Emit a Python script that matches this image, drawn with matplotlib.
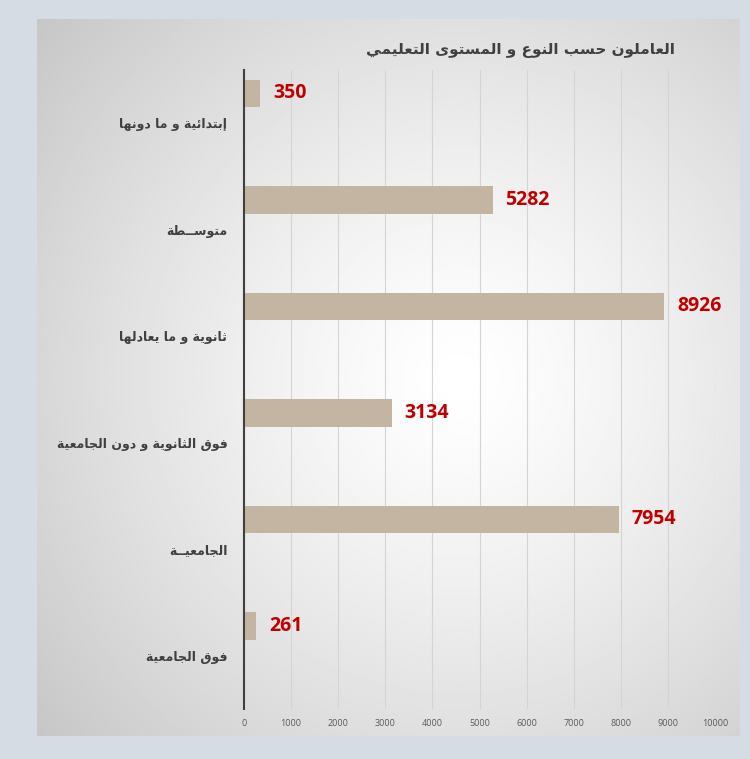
import numpy as np
import matplotlib.pyplot as plt

# data
title = 'العاملون حسب النوع و المستوى التعليمي'
categories = ['إبتدائية و ما دونها', 'متوســطة', 'ثانوية و ما يعادلها',
              'فوق الثانوية و دون الجامعية', 'الجامعيــة', 'فوق الجامعية']
values = [350, 5282, 8926, 3134, 7954, 261]
xticks = list(range(0, 10001, 1000))

# matplotlib has no arabic shaping, so pick the presentation forms by hand
# (isolated form codepoint, number of forms: 2 = joins right only, 4 = joins both sides)
FORMS = {
    'ا': (0xFE8D, 2), 'إ': (0xFE87, 2), 'ب': (0xFE8F, 4), 'ة': (0xFE93, 2),
    'ت': (0xFE95, 4), 'ث': (0xFE99, 4), 'ج': (0xFE9D, 4), 'ح': (0xFEA1, 4),
    'د': (0xFEA9, 2), 'س': (0xFEB1, 4), 'ط': (0xFEC1, 4), 'ع': (0xFEC9, 4),
    'ف': (0xFED1, 4), 'ق': (0xFED5, 4), 'ل': (0xFEDD, 4), 'م': (0xFEE1, 4),
    'ن': (0xFEE5, 4), 'ه': (0xFEE9, 4), 'و': (0xFEED, 2), 'ى': (0xFEEF, 2),
    'ي': (0xFEF1, 4), 'ئ': (0xFE89, 4),
}
TATWEEL = 'ـ'


def joins(c):
    return c in FORMS or c == TATWEEL


def dual(c):
    return c == TATWEEL or (c in FORMS and FORMS[c][1] == 4)


def shape(text):
    out = []
    for i, c in enumerate(text):
        if c not in FORMS:
            out.append(c)
            continue
        base, k = FORMS[c]
        prev = text[i - 1] if i > 0 else ''
        nxt = text[i + 1] if i < len(text) - 1 else ''
        jp = dual(prev)
        jn = k == 4 and joins(nxt)
        if jp and jn:
            off = 3
        elif jp:
            off = 1
        elif jn:
            off = 2
        else:
            off = 0
        out.append(chr(base + off))
    return ''.join(reversed(out))


fig = plt.figure(figsize=(7.5, 7.59), dpi=100)
fig.patch.set_facecolor('#d5dce3')

# grey panel with a soft radial gradient behind the chart
bg = fig.add_axes([37 / 750, 1 - 736 / 759, 703 / 750, 717 / 759])
X, Y = np.meshgrid(np.linspace(0, 1, 300), np.linspace(0, 1, 300))
d = np.sqrt(((X - 0.6) / 0.75) ** 2 + ((Y - 0.5) / 0.75) ** 2)
shade = 1 - 0.21 * np.clip(d, 0, 1.1) ** 1.3
bg.imshow(shade, cmap='gray', vmin=0, vmax=1, extent=[0, 1, 0, 1], aspect='auto')
bg.axis('off')

ax = fig.add_axes([244 / 750, 50 / 759, 471 / 750, 639 / 759])
ax.patch.set_alpha(0)

y = np.arange(len(categories))
ax.barh(y - 0.28, values, height=0.255, color='#c4b5a2', zorder=2)
for yi, v in zip(y, values):
    ax.annotate(str(v), (v, yi - 0.28), xytext=(9, 0), textcoords='offset points',
                va='center', ha='left', color='#c00000', fontsize=14,
                fontweight='bold', family='Open Sans')

ax.set_xlim(0, 10000)
ax.set_ylim(len(categories) - 0.5, -0.5)
ax.set_xticks(xticks)
ax.set_xticklabels([str(t) for t in xticks], fontsize=6.5, color='#595959', family='Open Sans')
ax.set_yticks(y)
ax.set_yticklabels([shape(c) for c in categories], fontsize=9, fontweight='bold',
                   color='#404040', family='DejaVu Sans')
ax.tick_params(axis='both', length=0)
ax.tick_params(axis='x', pad=7)
ax.tick_params(axis='y', pad=12)
ax.grid(axis='x', color='#d4d4d4', lw=0.8, zorder=0)
ax.set_axisbelow(True)
for s in ['top', 'right', 'bottom']:
    ax.spines[s].set_visible(False)
ax.spines['left'].set_color('#404040')
ax.spines['left'].set_linewidth(1.5)

fig.text(675 / 750, 1 - 50 / 759, shape(title), ha='right', va='center',
         fontsize=11, fontweight='bold', color='#404040', family='DejaVu Sans')

fig.savefig('out.png', dpi=100, facecolor=fig.get_facecolor())
